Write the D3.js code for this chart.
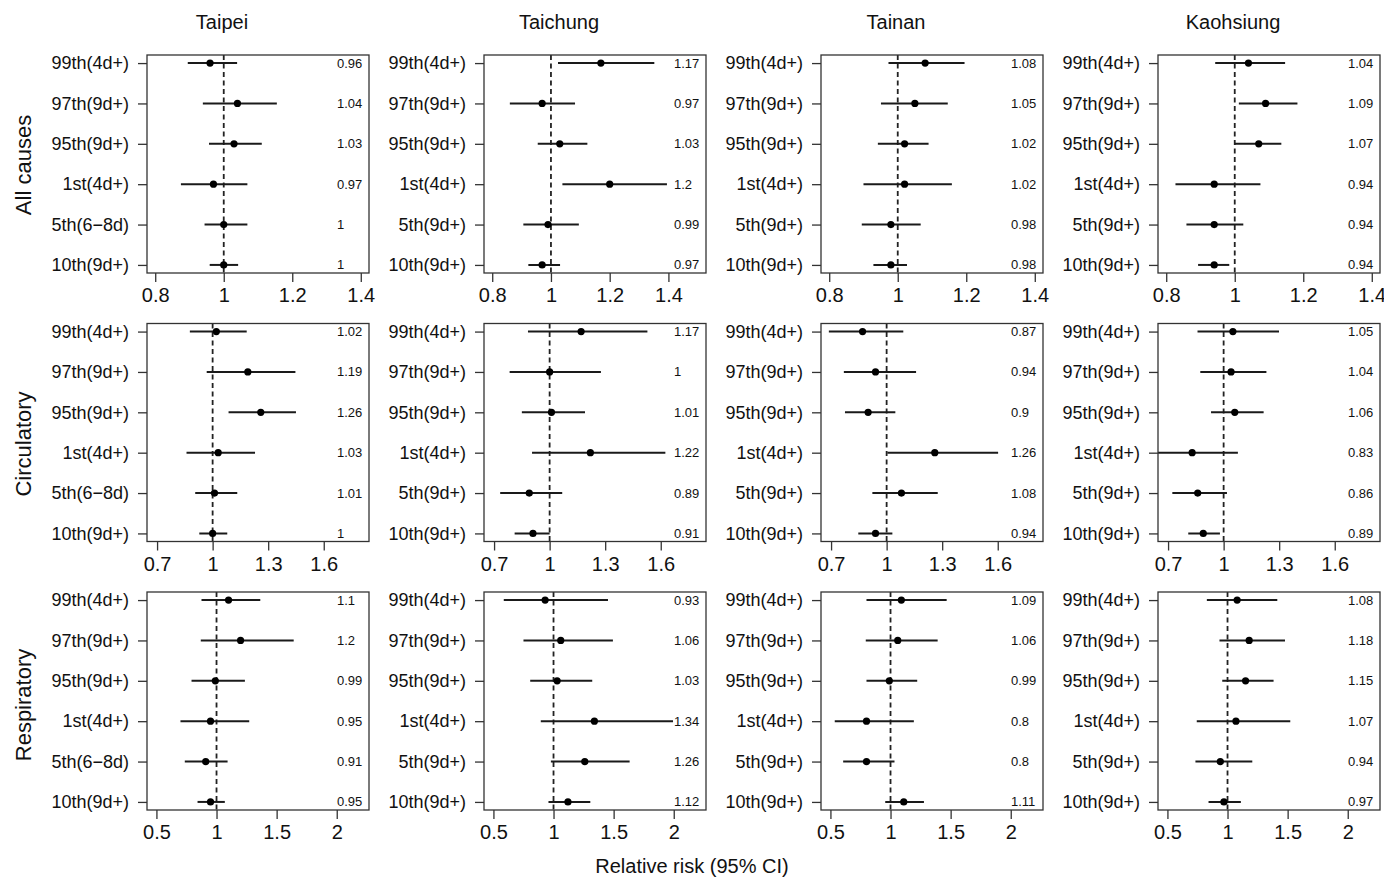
<!DOCTYPE html>
<html><head><meta charset="utf-8">
<script src="https://cdn.jsdelivr.net/npm/d3@7"></script>
<style>body{margin:0;background:#fff}svg text{font-family:"Liberation Sans",Arial,sans-serif;fill:#111}</style>
</head><body><svg id="c" width="1384" height="879"></svg>
<script>
const cities = ["Taipei","Taichung","Tainan","Kaohsiung"];
const outcomes = ["All causes","Circulatory","Respiratory"];
const catsFirst = ["99th(4d+)","97th(9d+)","95th(9d+)","1st(4d+)","5th(6\u22128d)","10th(9d+)"];
const catsOther = ["99th(4d+)","97th(9d+)","95th(9d+)","1st(4d+)","5th(9d+)","10th(9d+)"];
const xTicks = [[0.8,1,1.2,1.4],[0.7,1,1.3,1.6],[0.5,1,1.5,2]];
const xLimits = [
  [[0.8,1.4],[0.8,1.5],[0.8,1.4],[0.8,1.4]],
  [[0.69,1.8],[0.69,1.8],[0.69,1.8],[0.69,1.8]],
  [[0.49,2.2],[0.49,2.2],[0.49,2.2],[0.49,2.2]]
];
// estimates [outcome][city][category]
const estimate = [
  [[0.96,1.04,1.03,0.97,1.00,1.00],[1.17,0.97,1.03,1.20,0.99,0.97],[1.08,1.05,1.02,1.02,0.98,0.98],[1.04,1.09,1.07,0.94,0.94,0.94]],
  [[1.02,1.19,1.26,1.03,1.01,1.00],[1.17,1.00,1.01,1.22,0.89,0.91],[0.87,0.94,0.90,1.26,1.08,0.94],[1.05,1.04,1.06,0.83,0.86,0.89]],
  [[1.10,1.20,0.99,0.95,0.91,0.95],[0.93,1.06,1.03,1.34,1.26,1.12],[1.09,1.06,0.99,0.80,0.80,1.11],[1.08,1.18,1.15,1.07,0.94,0.97]]
];
const lower = [
  [[0.895,0.939,0.957,0.875,0.944,0.959],[1.024,0.86,0.955,1.039,0.906,0.923],[0.973,0.951,0.942,0.90,0.895,0.929],[0.943,1.012,1.0,0.827,0.859,0.893]],
  [[0.877,0.968,1.086,0.859,0.906,0.928],[0.883,0.784,0.85,0.905,0.733,0.811],[0.688,0.769,0.775,1.004,0.923,0.847],[0.859,0.874,0.932,0.62,0.723,0.809]],
  [[0.875,0.869,0.792,0.70,0.736,0.842],[0.586,0.75,0.806,0.894,0.978,0.958],[0.80,0.794,0.80,0.536,0.606,0.956],[0.828,0.933,0.956,0.744,0.733,0.842]]
];
const upper = [
  [[1.039,1.155,1.111,1.069,1.069,1.042],[1.352,1.082,1.124,1.395,1.095,1.031],[1.195,1.146,1.09,1.158,1.067,1.027],[1.147,1.183,1.136,1.075,1.025,0.984]],
  [[1.184,1.447,1.45,1.229,1.133,1.079],[1.528,1.277,1.191,1.625,1.068,1.0],[1.09,1.159,1.047,1.602,1.276,1.031],[1.299,1.231,1.216,1.077,1.018,0.98]],
  [[1.364,1.642,1.236,1.272,1.092,1.069],[1.453,1.494,1.322,1.994,1.633,1.306],[1.467,1.392,1.222,1.194,1.033,1.278],[1.414,1.478,1.383,1.522,1.206,1.111]]
];
const xTitle = "Relative risk (95% CI)";

const svg = d3.select("#c");
const W = 222, H = 218;
const left0 = 147, colStep = 337, top0 = 55, rowStep = 268.5;
const pad = (a,b) => [a-0.04*(b-a), b+0.04*(b-a)];

outcomes.forEach((oc, r) => {
  cities.forEach((city, c) => {
    const L = left0 + c*colStep, T = top0 + r*rowStep;
    const g = svg.append("g").attr("transform", `translate(${L},${T})`);
    const x = d3.scaleLinear().domain(pad(...xLimits[r][c])).range([0, W]);
    const y = d3.scaleLinear().domain(pad(1,6)).range([H, 0]);
    const cats = c === 0 ? catsFirst : catsOther;
    const id = `clip${r}${c}`;
    g.append("clipPath").attr("id", id).append("rect").attr("width", W).attr("height", H);
    const data = cats.map((k,i) => ({k, yv: 6-i, e: estimate[r][c][i], lo: lower[r][c][i], hi: upper[r][c][i]}));
    const inner = g.append("g").attr("clip-path", `url(#${id})`);
    inner.append("line").attr("x1", x(1)).attr("x2", x(1)).attr("y1", 0).attr("y2", H)
      .attr("stroke", "#222").attr("stroke-width", 1.8).attr("stroke-dasharray", "5,3.5");
    inner.selectAll("line.ci").data(data).join("line").attr("class","ci")
      .attr("x1", d => x(d.lo)).attr("x2", d => x(d.hi)).attr("y1", d => y(d.yv)).attr("y2", d => y(d.yv))
      .attr("stroke", "#1a1a1a").attr("stroke-width", 2);
    inner.selectAll("circle").data(data).join("circle")
      .attr("cx", d => x(d.e)).attr("cy", d => y(d.yv)).attr("r", 3.6).attr("fill", "#000");
    g.selectAll("text.val").data(data).join("text").attr("class","val")
      .attr("x", W - 32).attr("y", d => y(d.yv)).attr("dy", "0.35em")
      .attr("font-size", 13).text(d => String(+d.e.toFixed(2)));
    g.append("rect").attr("width", W).attr("height", H).attr("fill", "none")
      .attr("stroke", "#333").attr("stroke-width", 1.3);
    const ax = g.append("g").attr("transform", `translate(0,${H})`)
      .call(d3.axisBottom(x).tickValues(xTicks[r]).tickFormat(d => String(d)).tickSize(9).tickPadding(6));
    ax.select(".domain").remove();
    ax.selectAll("line").attr("stroke", "#333").attr("stroke-width", 1.3);
    ax.selectAll("text").attr("font-size", 20).attr("font-family", "Liberation Sans, Arial, sans-serif").attr("fill", "#111");
    const ay = g.append("g")
      .call(d3.axisLeft(y).tickValues([6,5,4,3,2,1]).tickFormat(v => cats[6-v]).tickSize(9).tickPadding(9));
    ay.select(".domain").remove();
    ay.selectAll("line").attr("stroke", "#333").attr("stroke-width", 1.3);
    ay.selectAll("text").attr("font-size", 18).attr("font-family", "Liberation Sans, Arial, sans-serif").attr("fill", "#111");
    if (r === 0) {
      svg.append("text").attr("x", L + W/2 - 36).attr("y", 29).attr("text-anchor", "middle")
        .attr("font-size", 20).text(city);
    }
  });
  const cy = [165, 444, 705][r];
  svg.append("text").attr("transform", `translate(31,${cy}) rotate(-90)`).attr("text-anchor", "middle")
    .attr("font-size", 22).text(oc);
});
svg.append("text").attr("x", 692).attr("y", 873).attr("text-anchor", "middle").attr("font-size", 20).text(xTitle);
</script></body></html>
